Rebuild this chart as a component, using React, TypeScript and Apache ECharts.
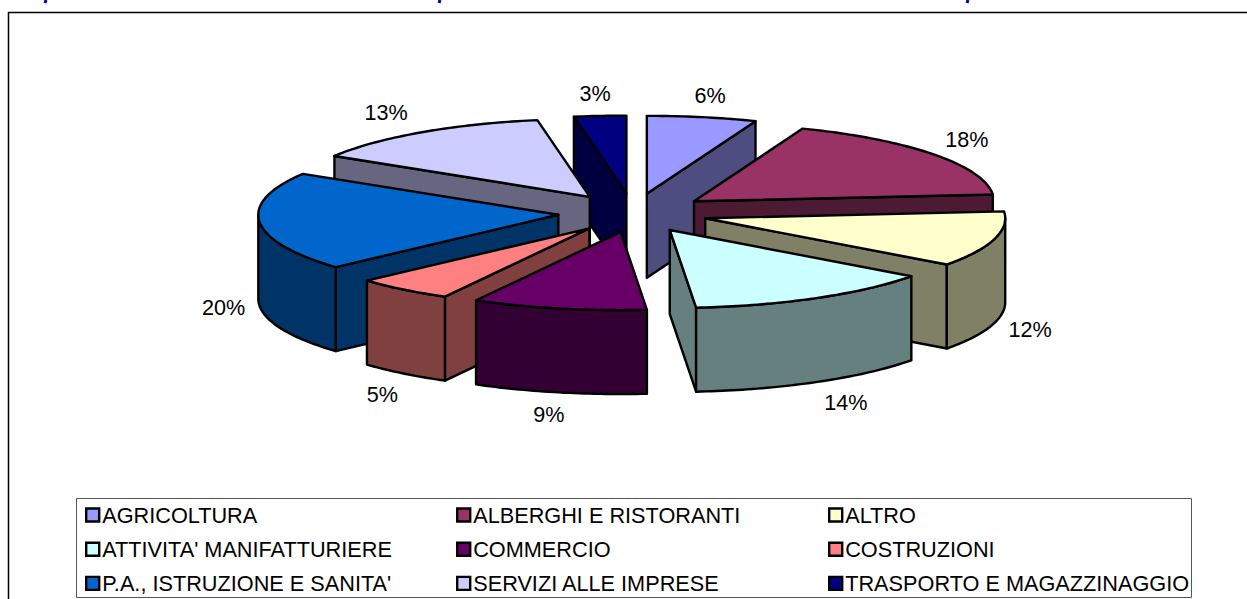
import React, { useEffect, useRef } from "react";
import * as echarts from "echarts";

const categories = [
  "AGRICOLTURA",
  "ALBERGHI E RISTORANTI",
  "ALTRO",
  "ATTIVITA' MANIFATTURIERE",
  "COMMERCIO",
  "COSTRUZIONI",
  "P.A., ISTRUZIONE E SANITA'",
  "SERVIZI ALLE IMPRESE",
  "TRASPORTO E MAGAZZINAGGIO",
];
const shares = [5.9, 17.7, 11.5, 13.5, 9.4, 5.3, 20.49, 13.41, 2.8];
const topColors = ["#9999FF", "#993366", "#FFFFCC", "#CCFFFF", "#660066", "#FF8080", "#0066CC", "#CCCCFF", "#000080"];
const wallColors = ["#4D4D80", "#4D1A33", "#808066", "#668080", "#330033", "#804040", "#003366", "#666680", "#000040"];
const labelNudges = [[8, -22], [34, -15], [36, 90], [29, 105], [-7, 106], [-18, 105], [-36, 86], [-36, -20], [-5, -22]];
const sliceNudgeX = [0, 1, 0, 0, 3, 3, 0, -1, 0];

const CX = 633, CY = 213, RX = 300, RY = 78, EXPLODE = 0.25, DEPTH = 84;
const FONT = "'Liberation Sans', Arial, sans-serif";
const rad = (d: number) => (d * Math.PI) / 180;

const total = shares.reduce((a, b) => a + b, 0);
const starts = shares.map((_, i) => shares.slice(0, i).reduce((a, b) => a + b, 0));
const midAngle = (i: number) => ((starts[i] + shares[i] / 2) / total) * 360;

function renderSlice(index: number) {
  return (_params: any, api: any) => {
    const start = (api.value(0) / total) * 360;
    const end = start + (api.value(1) / total) * 360;
    const mid = (start + end) / 2;
    const ax = CX + sliceNudgeX[index] + RX * EXPLODE * Math.sin(rad(mid));
    const ay = CY - RY * EXPLODE * Math.cos(rad(mid));
    const pt = (t: number, down = 0): number[] => [
      ax + RX * Math.sin(rad(t)),
      ay - RY * Math.cos(rad(t)) + down,
    ];
    const arc = (a: number, b: number, down = 0) => {
      const out: number[][] = [];
      const n = Math.max(2, Math.ceil(Math.abs(b - a)));
      for (let k = 0; k <= n; k++) out.push(pt(a + ((b - a) * k) / n, down));
      return out;
    };
    const wall = wallColors[index];
    const style = (fill: string) => ({ fill, stroke: "#000", lineWidth: 2.4, lineJoin: "round" });
    const poly = (points: number[][], fill: string) => ({
      type: "polygon",
      shape: { points },
      style: style(fill),
      silent: true,
    });
    const children: any[] = [];
    const apex = [ax, ay];
    const apexDown = [ax, ay + DEPTH];
    const cut = (t: number) => poly([apex, pt(t), pt(t, DEPTH), apexDown], wall);
    // Cut faces that look towards the viewer
    if (Math.sin(rad(start)) < 0) children.push(cut(start));
    if (Math.sin(rad(end)) > 0) children.push(cut(end));
    // Outer wall on the front half of the ellipse
    const a = Math.max(start, 90);
    const b = Math.min(end, 270);
    if (b > a) children.push(poly([...arc(a, b), ...arc(b, a, DEPTH)], wall));
    // Top face
    children.push(poly([apex, ...arc(start, end)], topColors[index]));
    return { type: "group", children };
  };
}

// Painted from the back of the pie to the front
const paintOrder = categories
  .map((_, i) => i)
  .sort((p, q) => Math.cos(rad(midAngle(q))) - Math.cos(rad(midAngle(p))));

function labelGraphic(i: number) {
  const mid = midAngle(i);
  const R = 1 + EXPLODE;
  return {
    type: "text",
    x: CX + RX * R * Math.sin(rad(mid)) + labelNudges[i][0],
    y: CY - RY * R * Math.cos(rad(mid)) + labelNudges[i][1],
    z: 20,
    silent: true,
    style: {
      text: `${Math.round(shares[i])}%`,
      font: `21.6px ${FONT}`,
      fill: "#000",
      align: "center",
      verticalAlign: "middle",
    },
  };
}

const legendCols = [
  { left: 85, names: [0, 3, 6] },
  { left: 456, names: [1, 4, 7] },
  { left: 828, names: [2, 5, 8] },
];

export default function App() {
  const ref = useRef<HTMLDivElement>(null);
  useEffect(() => {
    document.body.style.margin = "0";
    const chart = echarts.init(ref.current!, undefined, { renderer: "svg" });
    chart.setOption({
      animation: false,
      backgroundColor: "#fff",
      legend: legendCols.map((c) => ({
        left: c.left,
        top: 504,
        orient: "vertical",
        padding: 0,
        itemGap: 12.2,
        itemWidth: 13,
        itemHeight: 13,
        icon: "rect",
        selectedMode: false,
        itemStyle: { borderColor: "#000", borderWidth: 2.4 },
        textStyle: { fontFamily: "Liberation Sans", fontSize: 21.7, color: "#000", padding: [0, 0, 0, -2], lineHeight: 22 },
        data: c.names.map((i) => categories[i]),
      })),
      graphic: [
        { type: "rect", z: -2, silent: true, shape: { x: 8.5, y: 12.5, width: 1300, height: 700 }, style: { fill: "#fff", stroke: "#000", lineWidth: 1.5 } },
        { type: "rect", z: -1, silent: true, shape: { x: 76.5, y: 498.5, width: 1115, height: 99 }, style: { fill: "#fff", stroke: "#555", lineWidth: 1 } },
        ...[46, 440, 968].map((x) => ({
          type: "line",
          silent: true,
          shape: { x1: x, y1: 0, x2: x - 1, y2: 3 },
          style: { stroke: "#0000A0", lineWidth: 3 },
        })),
        ...categories.map((_, i) => labelGraphic(i)),
      ],
      series: paintOrder.map((i) => ({
        type: "custom",
        name: categories[i],
        coordinateSystem: "none",
        itemStyle: { color: topColors[i] },
        silent: true,
        renderItem: renderSlice(i),
        data: [[starts[i], shares[i]]],
      })),
    });
    return () => chart.dispose();
  }, []);
  return <div ref={ref} style={{ width: 1247, height: 599 }} />;
}
